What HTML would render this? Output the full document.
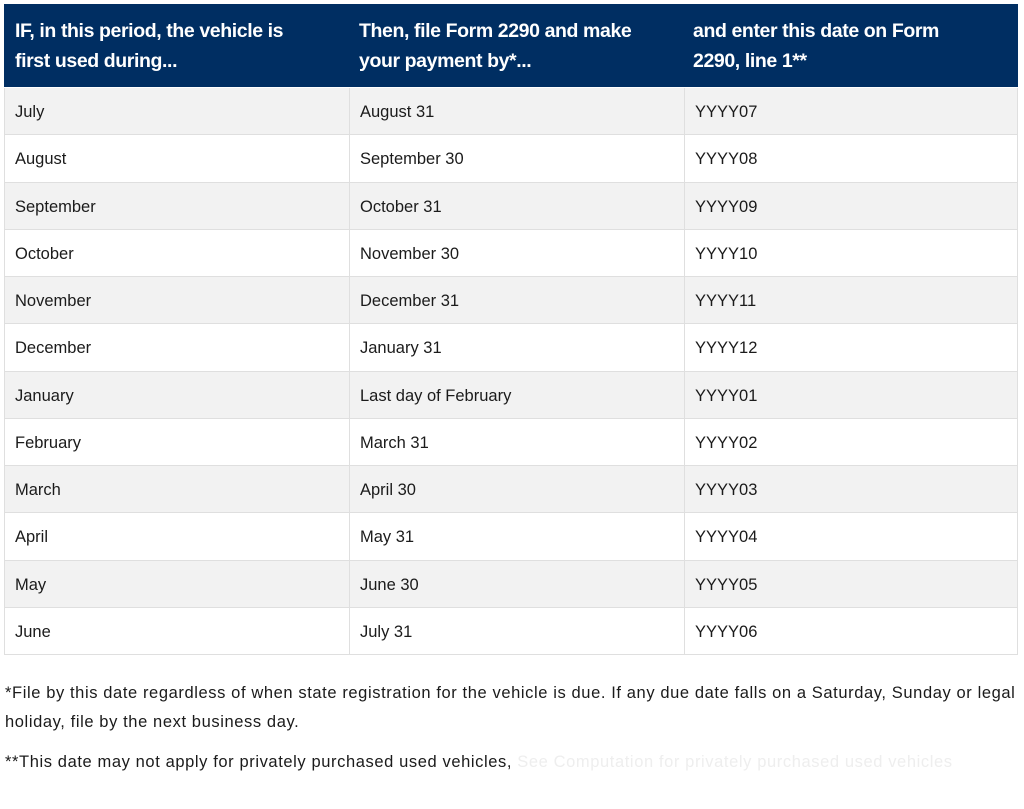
<!DOCTYPE html>
<html><head><meta charset="utf-8"><style>
body{margin:0;width:1024px;height:809px;background:#fff;font-family:"Liberation Sans",sans-serif;color:#1b1b1b;position:relative;overflow:hidden}
.h{position:absolute;top:4px;left:4px;width:1014px;height:83px;background:#002e62}
.h div{position:absolute;top:12px;color:#fff;font-weight:bold;font-size:19.5px;line-height:30px;letter-spacing:-0.4px}
.r{position:absolute;left:4px;width:1012px;border:1px solid #dfdfdf;border-top:none;font-size:16.5px}
.r div{position:absolute;top:0;height:100%;line-height:48px;padding-left:10px;box-sizing:border-box}
.c2,.c3{border-left:1px solid #dfdfdf}
.f{position:absolute;left:5px;font-size:16.5px;line-height:29px;width:1015px;white-space:nowrap;letter-spacing:0.6px}
</style></head><body>
<div class="h">
<div style="left:11px">IF, in this period, the vehicle is<br>first used during...</div>
<div style="left:355px">Then, file Form 2290 and make<br>your payment by*...</div>
<div style="left:689px">and enter this date on Form<br>2290, line 1**</div>
</div>
<div id="rows"></div>
<div class="f" style="top:679px">*File by this date regardless of when state registration for the vehicle is due. If any due date falls on a Saturday, Sunday or legal<br>holiday, file by the next business day.</div>
<div class="f" style="top:748px">**This date may not apply for privately purchased used vehicles, <span style="color:#eee">See Computation for privately purchased used vehicles</span></div>
<script>
var d=[["July","August 31","07"],["August","September 30","08"],["September","October 31","09"],["October","November 30","10"],["November","December 31","11"],["December","January 31","12"],["January","Last day of February","01"],["February","March 31","02"],["March","April 30","03"],["April","May 31","04"],["May","June 30","05"],["June","July 31","06"]];
var h="";
for(var i=0;i<12;i++){var t=88+Math.round(i*47.25),b=88+Math.round((i+1)*47.25);
h+='<div class="r" style="top:'+t+'px;height:'+(b-t-1)+'px;background:'+(i%2?'#fff':'#f2f2f2')+'"><div style="left:0;width:344px">'+d[i][0]+'</div><div class="c2" style="left:344px;width:335px">'+d[i][1]+'</div><div class="c3" style="left:679px;width:333px">YYYY'+d[i][2]+'</div></div>';}
document.getElementById("rows").innerHTML=h;
</script>
</body></html>
